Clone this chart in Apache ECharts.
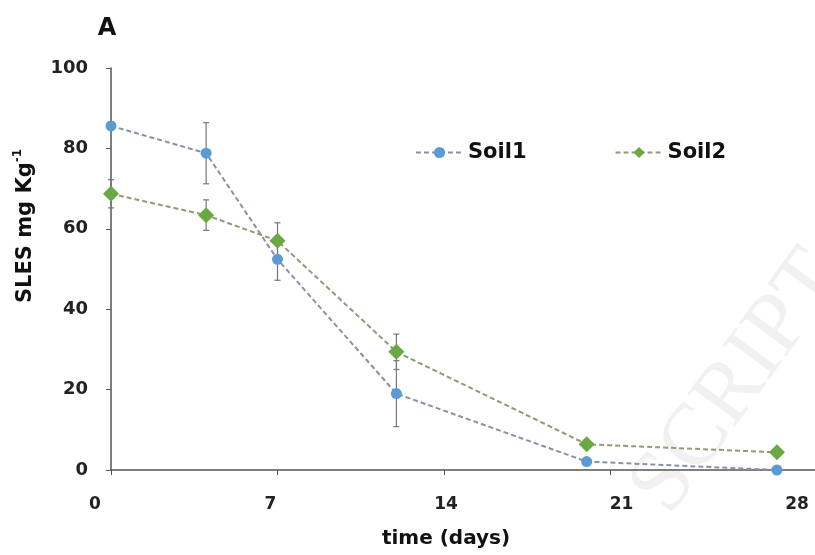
<!DOCTYPE html>
<html>
<head>
<meta charset="utf-8">
<script src="https://cdn.jsdelivr.net/npm/echarts@6/dist/echarts.min.js"></script>
<style>html,body{margin:0;padding:0;background:#fff;}#c{width:815px;height:555px;}</style>
</head>
<body>
<div id="c"></div>
<script>
var days = [0, 4, 7, 12, 20, 28];
var soil1 = [85.6, 78.8, 52.4, 19.0, 2.1, 0.0];
var soil1Err = [1.0, 7.6, 5.2, 8.2, 0.8, 0.3];
var soil2 = [68.7, 63.4, 57.0, 29.4, 6.4, 4.4];
var soil2Err = [3.5, 3.8, 4.5, 4.4, 0.6, 0.5];
var xTicks = [0, 7, 14, 21, 28];
var yTicks = [0, 20, 40, 60, 80, 100];

var FONT = 'DejaVu Sans';
var chart = echarts.init(document.getElementById('c'), null, {renderer: 'canvas'});

function pts(vals) { return days.map(function (d, i) { return [d, vals[i]]; }); }
function errPts(vals, errs) { return days.map(function (d, i) { return [d, vals[i] - errs[i], vals[i] + errs[i]]; }); }

function errRender(params, api) {
  var x = api.value(0);
  var lo = api.coord([x, api.value(1)]);
  var hi = api.coord([x, api.value(2)]);
  var w = 3;
  var st = {stroke: '#777', lineWidth: 1.2};
  return {
    type: 'group',
    children: [
      {type: 'line', shape: {x1: lo[0], y1: lo[1], x2: hi[0], y2: hi[1]}, style: st},
      {type: 'line', shape: {x1: lo[0] - w, y1: lo[1], x2: lo[0] + w, y2: lo[1]}, style: st},
      {type: 'line', shape: {x1: hi[0] - w, y1: hi[1], x2: hi[0] + w, y2: hi[1]}, style: st}
    ]
  };
}

var option = {
  backgroundColor: '#fff',
  animation: false,
  grid: [
    {left: 111, right: 0, top: 68, bottom: 85},
    {left: 95, right: 18, top: 68, bottom: 85}
  ],
  graphic: [
    {type: 'text', x: 826, y: 262, rotation: 54 * Math.PI / 180, z: -10,
      style: {text: 'SCRIPT', font: '88px "Liberation Serif"', fill: '#f1f1f1', textAlign: 'right', textVerticalAlign: 'middle'}},
    {type: 'text', x: 107, y: 29, z: 10,
      style: {text: 'A', font: 'bold 24px "' + FONT + '"', fill: '#111', textAlign: 'center', textVerticalAlign: 'middle'}},
    {type: 'text', x: 24, y: 226, rotation: Math.PI / 2, z: 10,
      style: {
        text: '{a|SLES mg Kg}{b|-1}',
        textAlign: 'center', textVerticalAlign: 'middle',
        rich: {
          a: {fontFamily: FONT, fontWeight: 'bold', fontSize: 21, fill: '#111', color: '#111', lineHeight: 24, verticalAlign: 'bottom'},
          b: {fontFamily: FONT, fontWeight: 'bold', fontSize: 12, fill: '#111', color: '#111', verticalAlign: 'top', lineHeight: 24}
        }
      }}
  ],
  legend: {
    left: 410, top: 137,
    itemWidth: 47, itemHeight: 14, itemGap: 88,
    textStyle: {fontFamily: FONT, fontWeight: 'bold', fontSize: 21, color: '#111'},
    data: ['Soil1', 'Soil2']
  },
  xAxis: [
    {type: 'value', gridIndex: 0, min: 0, max: 29.6, interval: 7,
      axisLine: {lineStyle: {color: '#555', width: 1.5}},
      axisTick: {show: true, inside: false, length: 5, lineStyle: {color: '#555'}},
      axisLabel: {show: false}, splitLine: {show: false}},
    {type: 'value', gridIndex: 1, min: xTicks[0], max: xTicks[xTicks.length - 1], interval: 7,
      axisLine: {show: false}, axisTick: {show: false}, splitLine: {show: false},
      axisLabel: {margin: 26, fontFamily: FONT, fontWeight: 'bold', fontSize: 17, color: '#222'},
      name: 'time (days)', nameLocation: 'middle', nameGap: 59,
      nameTextStyle: {fontFamily: FONT, fontWeight: 'bold', fontSize: 20, color: '#111'}}
  ],
  yAxis: [
    {type: 'value', gridIndex: 0, min: yTicks[0], max: yTicks[yTicks.length - 1], interval: 20,
      axisLine: {show: true, lineStyle: {color: '#555', width: 1.5}},
      axisTick: {show: true, inside: false, length: 5, lineStyle: {color: '#555'}},
      axisLabel: {margin: 23, fontFamily: FONT, fontWeight: 'bold', fontSize: 18, color: '#222'},
      splitLine: {show: false}},
    {type: 'value', gridIndex: 1, min: 0, max: 100, show: false}
  ],
  series: [
    {type: 'custom', name: 'err1', xAxisIndex: 0, yAxisIndex: 0, z: 1,
      renderItem: errRender, data: errPts(soil1, soil1Err), encode: {x: 0, y: [1, 2]}},
    {type: 'custom', name: 'err2', xAxisIndex: 0, yAxisIndex: 0, z: 1,
      renderItem: errRender, data: errPts(soil2, soil2Err), encode: {x: 0, y: [1, 2]}},
    {type: 'line', name: 'Soil1', xAxisIndex: 0, yAxisIndex: 0, z: 3,
      data: pts(soil1), symbol: 'circle', symbolSize: 11,
      itemStyle: {color: '#5b9bd5'},
      lineStyle: {color: '#8892a6', width: 2, type: [5, 3]}},
    {type: 'line', name: 'Soil2', xAxisIndex: 0, yAxisIndex: 0, z: 4,
      data: pts(soil2), symbol: 'diamond', symbolSize: [16, 16],
      itemStyle: {color: '#6aa843'},
      lineStyle: {color: '#8f9c76', width: 2, type: [5, 3]}}
  ]
};
chart.setOption(option);
</script>
</body>
</html>
